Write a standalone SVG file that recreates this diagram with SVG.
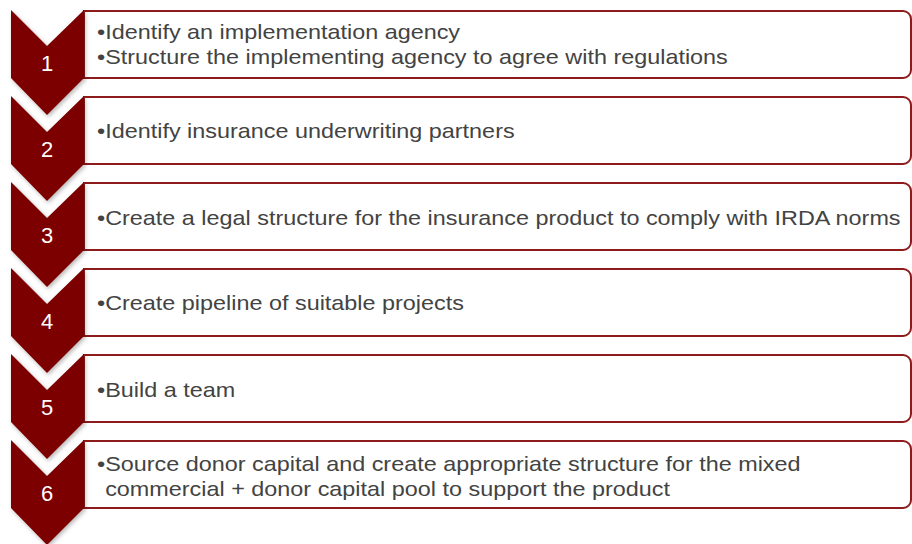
<svg xmlns="http://www.w3.org/2000/svg" width="912" height="544" viewBox="0 0 912 544">
<defs>
<filter id="sh" x="-20%" y="-20%" width="140%" height="140%">
<feDropShadow dx="1.5" dy="2" stdDeviation="2" flood-color="#000" flood-opacity="0.28"/>
</filter>
<path id="boxshape" d="M0,0 H819 A8,8 0 0 1 827,8 V59 A8,8 0 0 1 819,67 H0 Z"/>
<style>
.chev{fill:#7b0000;filter:url(#sh)}
.box{fill:#fff;stroke:#8e1b1b;stroke-width:2}
.num{font-family:"Liberation Sans",Arial,sans-serif;font-size:22px;fill:#fff;text-anchor:middle}
.txt{font-family:"Liberation Sans",Arial,sans-serif;font-size:21px;fill:#434343}
</style>
</defs>
<rect width="912" height="544" fill="#fff"/>
<g id="step1">
<use href="#boxshape" class="box" x="84" y="11"/>
<polygon class="chev" points="11,10 47,46 84,10 84,78 47,115 11,78"/>
<text class="num" x="47" y="71">1</text>
<g transform="translate(97 0) scale(1.114 1)">
<text class="txt" x="0" y="39">•Identify an implementation agency</text>
<text class="txt" x="0" y="64">•Structure the implementing agency to agree with regulations</text>
</g>
</g>
<g id="step2">
<use href="#boxshape" class="box" x="84" y="97"/>
<polygon class="chev" points="11,96 47,132 84,96 84,164 47,201 11,164"/>
<text class="num" x="47" y="157">2</text>
<g transform="translate(97 0) scale(1.114 1)">
<text class="txt" x="0" y="138">•Identify insurance underwriting partners</text>
</g>
</g>
<g id="step3">
<use href="#boxshape" class="box" x="84" y="183"/>
<polygon class="chev" points="11,182 47,218 84,182 84,250 47,287 11,250"/>
<text class="num" x="47" y="243">3</text>
<g transform="translate(97 0) scale(1.114 1)">
<text class="txt" x="0" y="225">•Create a legal structure for the insurance product to comply with IRDA norms</text>
</g>
</g>
<g id="step4">
<use href="#boxshape" class="box" x="84" y="269"/>
<polygon class="chev" points="11,268 47,304 84,268 84,336 47,373 11,336"/>
<text class="num" x="47" y="329">4</text>
<g transform="translate(97 0) scale(1.114 1)">
<text class="txt" x="0" y="310">•Create pipeline of suitable projects</text>
</g>
</g>
<g id="step5">
<use href="#boxshape" class="box" x="84" y="355"/>
<polygon class="chev" points="11,354 47,390 84,354 84,422 47,459 11,422"/>
<text class="num" x="47" y="415">5</text>
<g transform="translate(97 0) scale(1.114 1)">
<text class="txt" x="0" y="397">•Build a team</text>
</g>
</g>
<g id="step6">
<use href="#boxshape" class="box" x="84" y="441"/>
<polygon class="chev" points="11,440 47,476 84,440 84,508 47,545 11,508"/>
<text class="num" x="47" y="501">6</text>
<g transform="translate(97 0) scale(1.114 1)">
<text class="txt" x="0" y="471">•Source donor capital and create appropriate structure for the mixed</text>
<text class="txt" x="7.35" y="496">commercial + donor capital pool to support the product</text>
</g>
</g>
<g id="connectors"></g>
</svg>
